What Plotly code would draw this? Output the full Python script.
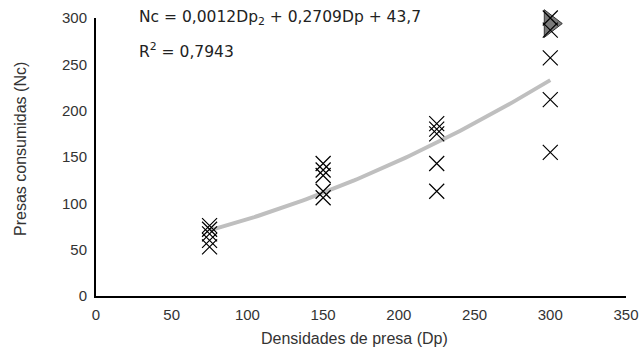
import numpy as np
import plotly.graph_objects as go

# Data
dp_75 = [76, 72, 67, 60, 53]
dp_150 = [143, 136, 130, 113, 106]
dp_225 = [186, 180, 175, 143, 113]
dp_300 = [300, 287, 257, 212, 155]
densities = [75, 150, 225, 300]
highlight_x = [300]
highlight_y = [294]
# Polynomial trendline coefficients (shown on the chart)
coef_a, coef_b, coef_c = 0.0012, 0.2709, 43.7
x_ticks = [0, 50, 100, 150, 200, 250, 300, 350]
y_ticks = [0, 50, 100, 150, 200, 250, 300]

xs, ys = [], []
for d, vals in zip(densities, [dp_75, dp_150, dp_225, dp_300]):
    xs += [d] * len(vals)
    ys += vals

tx = np.linspace(densities[0], densities[-1], 100)
ty = coef_a * tx ** 2 + coef_b * tx + coef_c

fig = go.Figure()
fig.add_trace(go.Scatter(x=tx, y=ty, mode="lines",
                         line=dict(color="#BFBFBF", width=4), hoverinfo="skip"))
fig.add_trace(go.Scatter(x=highlight_x, y=highlight_y, mode="markers", cliponaxis=False,
                         marker=dict(symbol="triangle-right", size=24, color="#7a7a7a",
                                     line=dict(color="#333333", width=1))))
fig.add_trace(go.Scatter(x=xs, y=ys, mode="markers", cliponaxis=False,
                         marker=dict(symbol="x-thin-open", size=15, color="black",
                                     line=dict(color="black", width=1.2))))

font = "Liberation Sans, Arial, sans-serif"
eqfont = "DejaVu Sans, Liberation Sans, sans-serif"
fig.add_annotation(x=0, y=1.0, xref="paper", yref="paper", xanchor="left", yanchor="middle",
                   xshift=41, yshift=0, showarrow=False,
                   text="Nc = 0,0012Dp<sub>2</sub> + 0,2709Dp + 43,7",
                   font=dict(size=15.5, color="#222222", family=eqfont))
fig.add_annotation(x=0, y=1.0, xref="paper", yref="paper", xanchor="left", yanchor="middle",
                   xshift=41, yshift=-32, showarrow=False,
                   text="R<sup>2</sup> = 0,7943",
                   font=dict(size=15.5, color="#222222", family=eqfont))
# axis titles
fig.add_annotation(x=0.5, y=0, xref="paper", yref="paper", xanchor="center", yanchor="middle",
                   xshift=-7, yshift=-42, showarrow=False, text="Densidades de presa (Dp)",
                   font=dict(size=16, color="#333333", family=font))
fig.add_annotation(x=0, y=0.5, xref="paper", yref="paper", xanchor="center", yanchor="middle",
                   xshift=-76, yshift=8, showarrow=False, text="Presas consumidas (Nc)",
                   textangle=-90, font=dict(size=16, color="#333333", family=font))

fig.update_layout(
    width=639, height=351,
    margin=dict(l=96, r=13, t=18, b=55),
    paper_bgcolor="white", plot_bgcolor="white",
    showlegend=False,
    font=dict(family=font, size=14, color="#333333"),
    xaxis=dict(range=[0, 350], tickvals=x_ticks, showgrid=False, zeroline=False,
               showline=True, linecolor="black", linewidth=2, ticks="",
               automargin=False, ticklabelstandoff=4,
               tickfont=dict(size=15, color="#333333")),
    yaxis=dict(range=[0, 300], tickvals=y_ticks, showgrid=False, zeroline=False,
               showline=True, linecolor="black", linewidth=2, ticks="",
               automargin=False, ticklabelstandoff=4,
               tickfont=dict(size=15, color="#333333")),
)
fig.write_html("out.html", config={"displayModeBar": False},
               post_script="document.body.style.margin='0';document.body.style.overflow='hidden';")
